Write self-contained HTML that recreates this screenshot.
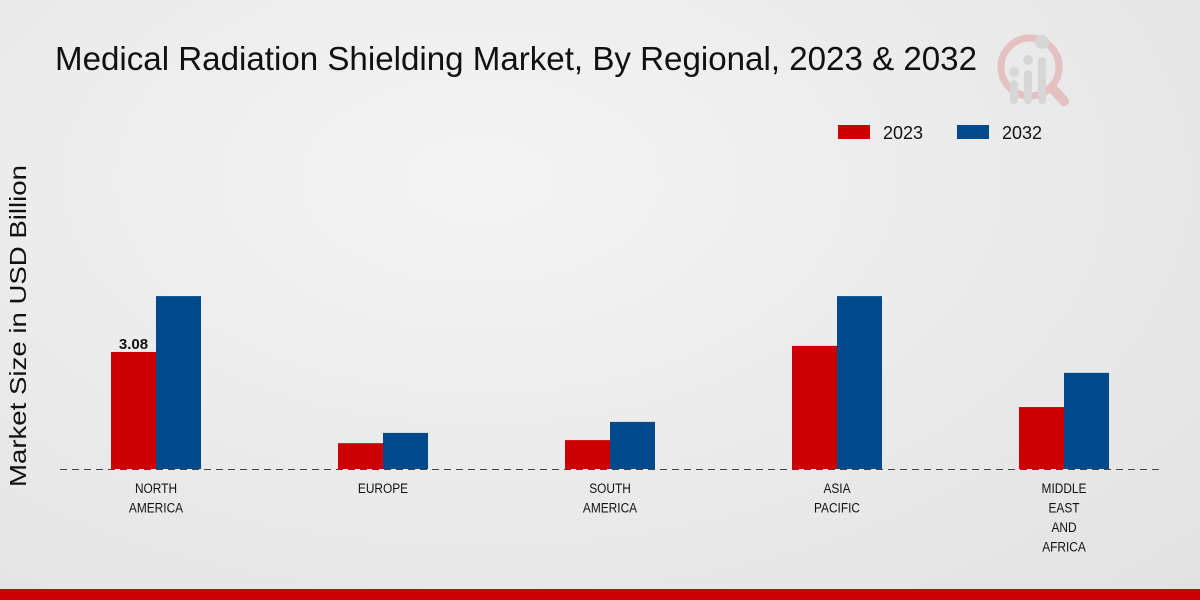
<!DOCTYPE html>
<html><head><meta charset="utf-8"><style>
html,body{margin:0;padding:0;width:1200px;height:600px;overflow:hidden}
body{background:radial-gradient(ellipse at 40% 30%,#f4f4f4 0%,#e9e9e9 60%,#e2e2e2 100%);font-family:"Liberation Sans",sans-serif}
</style></head><body>
<svg id="chart" width="1200" height="600" xmlns="http://www.w3.org/2000/svg">
<text x="55" y="70" font-size="33" fill="#111" textLength="922" lengthAdjust="spacingAndGlyphs">Medical Radiation Shielding Market, By Regional, 2023 &amp; 2032</text>
<g opacity="0.55">
<circle cx="1030" cy="67" r="29" fill="none" stroke="#e0a0a0" stroke-width="7"/>
<line x1="1052" y1="88" x2="1064" y2="101" stroke="#e0a0a0" stroke-width="10" stroke-linecap="round"/>
<rect x="1010" y="80" width="8" height="24" rx="4" fill="#c8c8c8"/>
<rect x="1024" y="70" width="8" height="34" rx="4" fill="#c8c8c8"/>
<rect x="1038" y="57" width="8" height="47" rx="4" fill="#c8c8c8"/>
<circle cx="1014" cy="72" r="5" fill="#c8c8c8"/><circle cx="1028" cy="60" r="5" fill="#c8c8c8"/><circle cx="1042" cy="42" r="7" fill="#c8c8c8"/>
</g>
<g>
<rect x="838" y="125" width="32" height="14" fill="#cc0000"/>
<text x="883" y="139" font-size="18" fill="#111" textLength="40" lengthAdjust="spacingAndGlyphs">2023</text>
<rect x="957" y="125" width="32" height="14" fill="#004a8c"/>
<text x="1002" y="139" font-size="18" fill="#111" textLength="40" lengthAdjust="spacingAndGlyphs">2032</text>
</g>
<text transform="translate(26,326) rotate(-90)" text-anchor="middle" font-size="23" fill="#111" textLength="322" lengthAdjust="spacingAndGlyphs">Market Size in USD Billion</text>
<g id="bars"></g>
<line x1="60" y1="469.5" x2="1160" y2="469.5" stroke="#444" stroke-dasharray="7,5"/>
<g id="labels"></g>
<rect x="0" y="589" width="1200" height="11" fill="#cc0000"/>
</svg>
<script>
const categories=[["NORTH","AMERICA"],["EUROPE"],["SOUTH","AMERICA"],["ASIA","PACIFIC"],["MIDDLE","EAST","AND","AFRICA"]];
const values2023=[3.08,0.68,0.76,3.24,1.63];
const values2032=[4.55,0.95,1.24,4.55,2.53];
const shownLabels=["3.08",null,null,null,null];
const NS="http://www.w3.org/2000/svg";
const baseY=469,scale=38,x0=156,step=227,bw=45;
const yS=v=>baseY-v*scale;
const xC=i=>x0+i*step;
const bars=document.getElementById('bars'),labels=document.getElementById('labels');
categories.forEach((cat,i)=>{
  [[values2023,'#cc0000',-bw,'2023'],[values2032,'#004a8c',0,'2032']].forEach(([arr,c,off,yr])=>{
    const r=document.createElementNS(NS,'rect');
    r.setAttribute('x',xC(i)+off);r.setAttribute('y',yS(arr[i]));
    r.setAttribute('width',bw);r.setAttribute('height',baseY-yS(arr[i]));r.setAttribute('fill',c);
    
    
    bars.appendChild(r);
  });
  if(shownLabels[i]){
    const t=document.createElementNS(NS,'text');
    t.setAttribute('x',xC(i)-bw/2);t.setAttribute('y',yS(values2023[i])-3);
    t.setAttribute('text-anchor','middle');t.setAttribute('font-size','15');t.setAttribute('font-weight','bold');t.setAttribute('fill','#111');
    t.textContent=shownLabels[i];
    
    
    labels.appendChild(t);
  }
  cat.forEach((line,j)=>{
    const t=document.createElementNS(NS,'text');
    t.setAttribute('x',0);t.setAttribute('y',0);
    t.setAttribute('transform','translate('+xC(i)+','+(493+j*19.5)+') scale(0.85,1)');
    t.setAttribute('text-anchor','middle');t.setAttribute('font-size','14');t.setAttribute('fill','#111');
    t.textContent=line;
    
    
    labels.appendChild(t);
  });
});
</script>
</body></html>
